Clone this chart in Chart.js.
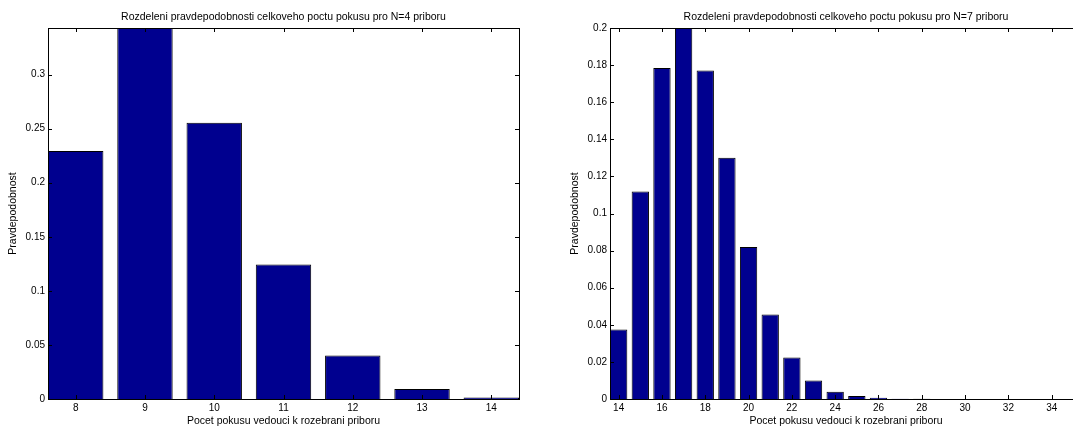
<!DOCTYPE html>
<html>
<head>
<meta charset="utf-8">
<script src="https://cdn.jsdelivr.net/npm/chart.js@4.4.1/dist/chart.umd.min.js"></script>
<style>
html, body { margin: 0; padding: 0; background: #fff; overflow: hidden; }
#wrap { position: relative; width: 1073px; height: 427px; overflow: hidden; }
#chartN4 { position: absolute; left: 0; top: 0; }
#chartN7 { position: absolute; left: 540px; top: 0; }
</style>
</head>
<body>
<div id="wrap">
  <canvas id="chartN4" width="530" height="427"></canvas>
  <canvas id="chartN7" width="553" height="427"></canvas>
</div>
<script>
// N=4 priboru
const n4Counts = [8, 9, 10, 11, 12, 13, 14]
const n4Probs = [0.2293, 0.3436, 0.2554, 0.1243, 0.0403, 0.0092, 0.0015]
const n4XTicks = [8, 9, 10, 11, 12, 13, 14]
const n4YTicks = [0, 0.05, 0.1, 0.15, 0.2, 0.25, 0.3]

// N=7 priboru
const n7Counts = [14, 15, 16, 17, 18, 19, 20, 21, 22, 23, 24, 25, 26, 27, 28, 29, 30, 31, 32, 33, 34, 35]
const n7Probs = [0.0375, 0.1119, 0.1784, 0.2006, 0.1771, 0.1301, 0.0819, 0.0456, 0.0224, 0.0100, 0.0039,
    0.0016, 0.0007, 0.0002, 0.0001, 0.00005, 0.00002, 0.00001, 0.00001, 0.00001, 0.00001, 0.00001]
const n7XTicks = [14, 16, 18, 20, 22, 24, 26, 28, 30, 32, 34]
const n7YTicks = [0, 0.02, 0.04, 0.06, 0.08, 0.1, 0.12, 0.14, 0.16, 0.18, 0.2]

const xLabel = 'Pocet pokusu vedouci k rozebrani priboru'
const yLabel = 'Pravdepodobnost'
const fontName = '"Liberation Sans", Arial, Helvetica, sans-serif'

// box round the axes with ticks pointing inwards (matlab look)
const matlabBox = {
    id: 'matlabBox',
    afterDatasetsDraw(chart) {
        const { ctx, chartArea: a, scales } = chart
        const len = 4
        ctx.save()
        ctx.strokeStyle = '#000'
        ctx.lineWidth = 1
        ctx.beginPath()
        scales.x.ticks.forEach((t) => {
            const px = Math.round(scales.x.getPixelForValue(t.value)) + 0.5
            ctx.moveTo(px, a.bottom)
            ctx.lineTo(px, a.bottom - len)
            ctx.moveTo(px, a.top)
            ctx.lineTo(px, a.top + len)
        })
        scales.y.ticks.forEach((t) => {
            const py = Math.round(scales.y.getPixelForValue(t.value)) + 0.5
            ctx.moveTo(a.left, py)
            ctx.lineTo(a.left + len, py)
            ctx.moveTo(a.right, py)
            ctx.lineTo(a.right - len, py)
        })
        ctx.stroke()
        ctx.strokeRect(Math.round(a.left) + 0.5, Math.round(a.top) + 0.5,
            Math.round(a.right - a.left), Math.round(a.bottom - a.top))
        ctx.restore()
    }
}

function makeChart(canvasId, counts, probs, xTicks, yTicks, xMin, xMax, yMax, titleText, padLeft) {
    const points = counts.map((c, i) => ({ x: c, y: probs[i] }))
    const config = {
        type: 'bar',
        data: {
            datasets: [{
                data: points,
                backgroundColor: '#00008f',
                borderColor: '#000',
                borderWidth: 1,
                barPercentage: 1,
                categoryPercentage: 0.8,
                clip: 0
            }]
        },
        options: {
            responsive: false,
            animation: false,
            devicePixelRatio: 1,
            layout: { padding: { left: padLeft, right: 11, top: 0, bottom: 0 } },
            plugins: {
                legend: { display: false },
                tooltip: { enabled: false },
                title: {
                    display: true,
                    text: titleText,
                    fullSize: false,
                    color: '#000',
                    font: { family: fontName, size: 10.5, weight: 'normal' },
                    padding: { top: 11, bottom: 4.4 }
                }
            },
            scales: {
                x: {
                    type: 'linear',
                    min: xMin,
                    max: xMax,
                    offset: false,
                    grid: { display: false, drawTicks: false, offset: false },
                    border: { display: false },
                    afterBuildTicks: (s) => { s.ticks = xTicks.map((v) => ({ value: v })) },
                    ticks: {
                        color: '#000',
                        font: { family: fontName, size: 10 },
                        padding: 3,
                        autoSkip: false,
                        maxRotation: 0,
                        callback: (v) => String(v)
                    },
                    title: {
                        display: true,
                        text: xLabel,
                        color: '#000',
                        font: { family: fontName, size: 10.5 },
                        padding: { top: 0, bottom: 0 }
                    },
                    afterFit: (s) => { s.height = 28 }
                },
                y: {
                    min: 0,
                    max: yMax,
                    grid: { display: false, drawTicks: false },
                    border: { display: false },
                    afterBuildTicks: (s) => { s.ticks = yTicks.map((v) => ({ value: v })) },
                    ticks: {
                        color: '#000',
                        font: { family: fontName, size: 10 },
                        padding: 3,
                        callback: (v) => String(+v.toFixed(3))
                    },
                    title: {
                        display: true,
                        text: yLabel,
                        color: '#000',
                        font: { family: fontName, size: 10.5 },
                        padding: { top: 7, bottom: 0 }
                    },
                    afterFit: (s) => { s.width = 48 }
                }
            }
        },
        plugins: [matlabBox]
    }
    return new Chart(document.getElementById(canvasId), config)
}

makeChart('chartN4', n4Counts, n4Probs, n4XTicks, n4YTicks, 7.6, 14.4, 0.3431,
    'Rozdeleni pravdepodobnosti celkoveho poctu pokusu pro N=4 priboru', 0)
makeChart('chartN7', n7Counts, n7Probs, n7XTicks, n7YTicks, 13.6, 35.4, 0.2,
    'Rozdeleni pravdepodobnosti celkoveho poctu pokusu pro N=7 priboru', 22)
</script>
</body>
</html>
